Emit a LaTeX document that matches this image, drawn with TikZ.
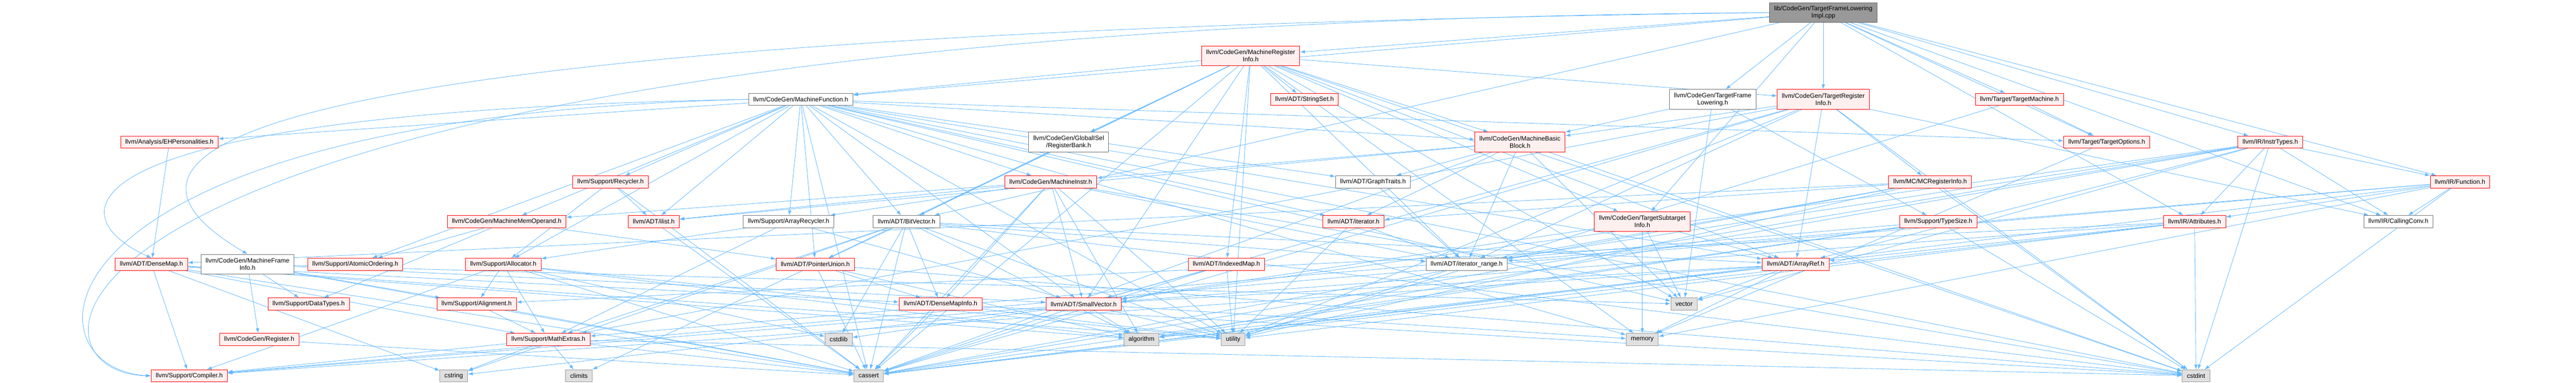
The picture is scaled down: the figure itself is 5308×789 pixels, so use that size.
\documentclass[tikz,border=0pt]{standalone}
\usepackage{fontspec}
\setmainfont{Liberation Sans}
\usepackage{tikz}
\usetikzlibrary{arrows.meta}

\definecolor{edgeblue}{HTML}{63B8FF}
\definecolor{partfill}{HTML}{FFF0F0}
\definecolor{sysfill}{HTML}{E0E0E0}
\definecolor{rootfill}{HTML}{999999}

\pgfdeclarelayer{background}
\pgfsetlayers{background,main}

\tikzset{
  hdr/.style={draw,rectangle,line width=1pt,inner xsep=9.5pt,inner ysep=0pt,
    minimum height=25pt,align=center,font=\fontsize{13}{15}\selectfont},
  part/.style={hdr,draw=red,fill=partfill},
  full/.style={hdr,draw=black!55,fill=white},
  sys/.style={hdr,draw=black!40,fill=sysfill},
  root/.style={hdr,draw=black!60,fill=rootfill},
  twoline/.style={minimum height=41pt},
  dep/.style={draw=edgeblue,line width=0.9pt,-{Latex[length=10pt,width=7pt]}}
}

\begin{document}
\begin{tikzpicture}[x=1pt,y=-1pt]
  \useasboundingbox (0,0) rectangle (5308,789);
  % row 0 and 1
  \node[root,twoline] (F-top) at (3757,26) {lib/CodeGen/TargetFrameLowering\\Impl.cpp};
  \node[part,twoline] (CG-MRI) at (2577,115) {llvm/CodeGen/MachineRegister\\Info.h};
  % row 2
  \node[full] (CG-MF) at (1650,205) {llvm/CodeGen/MachineFunction.h};
  \node[part] (ADT-SSet) at (2688,205) {llvm/ADT/StringSet.h};
  \node[full,twoline] (CG-TFL) at (3529,205) {llvm/CodeGen/TargetFrame\\Lowering.h};
  \node[part,twoline] (CG-TRI) at (3757,205) {llvm/CodeGen/TargetRegister\\Info.h};
  \node[part] (T-TM) at (4161,205) {llvm/Target/TargetMachine.h};
  % row 3
  \node[part] (A-EHP) at (349,293) {llvm/Analysis/EHPersonalities.h};
  \node[full,twoline] (CG-RB) at (2202,293) {llvm/CodeGen/GlobalISel\\/RegisterBank.h};
  \node[part,twoline] (CG-MBB) at (3132,293) {llvm/CodeGen/MachineBasic\\Block.h};
  \node[part] (T-TO) at (4341,293) {llvm/Target/TargetOptions.h};
  \node[part] (IR-IT) at (4678,293) {llvm/IR/InstrTypes.h};
  % row 4
  \node[part] (S-Rec) at (1258,375) {llvm/Support/Recycler.h};
  \node[part] (CG-MI) at (2165,375) {llvm/CodeGen/MachineInstr.h};
  \node[full] (ADT-GT) at (2829,375) {llvm/ADT/GraphTraits.h};
  \node[part] (MC-MCRI) at (3977,375) {llvm/MC/MCRegisterInfo.h};
  \node[part] (IR-Fn) at (5069,375) {llvm/IR/Function.h};
  % row 5
  \node[part] (CG-MMO) at (1044,457) {llvm/CodeGen/MachineMemOperand.h};
  \node[part] (ADT-il) at (1347,457) {llvm/ADT/ilist.h};
  \node[full] (S-AR) at (1625,457) {llvm/Support/ArrayRecycler.h};
  \node[full] (ADT-BV) at (1868,457) {llvm/ADT/BitVector.h};
  \node[part] (ADT-It) at (2789,457) {llvm/ADT/iterator.h};
  \node[part,twoline] (CG-TSI) at (3384,457) {llvm/CodeGen/TargetSubtarget\\Info.h};
  \node[part] (S-TS) at (3994,457) {llvm/Support/TypeSize.h};
  \node[part] (IR-Att) at (4522,457) {llvm/IR/Attributes.h};
  \node[full] (IR-CC) at (4942,457) {llvm/IR/CallingConv.h};
  % row 6
  \node[part] (ADT-DM) at (312,545) {llvm/ADT/DenseMap.h};
  \node[full,twoline] (CG-MFI) at (510,545) {llvm/CodeGen/MachineFrame\\Info.h};
  \node[part] (S-AO) at (732,545) {llvm/Support/AtomicOrdering.h};
  \node[part] (S-Alloc) at (1037,545) {llvm/Support/Allocator.h};
  \node[part] (ADT-PU) at (1680,545) {llvm/ADT/PointerUnion.h};
  \node[part] (ADT-IM) at (2527,545) {llvm/ADT/IndexedMap.h};
  \node[full] (ADT-IR) at (3022,545) {llvm/ADT/iterator\_range.h};
  \node[part] (ADT-AR) at (3700,545) {llvm/ADT/ArrayRef.h};
  % row 7
  \node[part] (S-DT) at (636,627) {llvm/Support/DataTypes.h};
  \node[part] (S-Al) at (982,627) {llvm/Support/Alignment.h};
  \node[part] (ADT-DMI) at (1938,627) {llvm/ADT/DenseMapInfo.h};
  \node[part] (ADT-SV) at (2233,627) {llvm/ADT/SmallVector.h};
  \node[sys] (X-vector) at (3470,627) {vector};
  % row 8
  \node[part] (CG-Reg) at (534,700) {llvm/CodeGen/Register.h};
  \node[part] (S-ME) at (1130,700) {llvm/Support/MathExtras.h};
  \node[sys] (X-cstdlib) at (1728,700) {cstdlib};
  \node[sys] (X-algorithm) at (2352,700) {algorithm};
  \node[sys] (X-utility) at (2541,700) {utility};
  \node[sys] (X-memory) at (3384,700) {memory};
  % row 9
  \node[part] (S-Comp) at (390,775) {llvm/Support/Compiler.h};
  \node[sys] (X-cstring) at (935,775) {cstring};
  \node[sys] (X-climits) at (1193,775) {climits};
  \node[sys] (X-cassert) at (1790,775) {cassert};
  \node[sys] (X-cstdint) at (4525,775) {cstdint};

  \begin{pgfonlayer}{background}
  % includes of the source file
  \draw[dep] (F-top) -- (CG-MRI);
  \draw[dep] (F-top) -- (CG-MF);
  \draw[dep] (F-top) -- (CG-TFL);
  \draw[dep] (F-top) -- (CG-TRI);
  \draw[dep] (F-top) -- (T-TM);
  \draw[dep] (F-top.west) .. controls (300,70) and (180,330) .. (CG-MFI.north);
  \draw[dep] (F-top) -- (ADT-BV);
  \draw[dep] (F-top) -- (CG-TSI);
  \draw[dep] (F-top) -- (IR-Att);
  \draw[dep] (F-top) -- (IR-CC);
  \draw[dep] (F-top) -- (IR-Fn);
  \draw[dep] (F-top) -- (IR-IT);
  \draw[dep] (F-top) -- (T-TO);
  \draw[dep] (F-top.west) .. controls (0,50) and (0,770) .. (S-Comp.west);
  % MachineRegisterInfo.h
  \draw[dep] (CG-MRI) -- (ADT-AR);
  \draw[dep] (CG-MRI) -- (ADT-BV);
  \draw[dep] (CG-MRI) -- (ADT-IM);
  \draw[dep] (CG-MRI) -- (ADT-PU);
  \draw[dep] (CG-MRI) -- (ADT-SV);
  \draw[dep] (CG-MRI) -- (ADT-SSet);
  \draw[dep] (CG-MRI) -- (ADT-IR);
  \draw[dep] (CG-MRI) -- (CG-MBB);
  \draw[dep] (CG-MRI) -- (CG-MF);
  \draw[dep] (CG-MRI) -- (CG-RB);
  \draw[dep] (CG-MRI) -- (CG-TRI);
  \draw[dep] (CG-MRI) -- (CG-TSI);
  \draw[dep] (CG-MRI) -- (X-cassert);
  \draw[dep] (CG-MRI) -- (X-cstdint);
  \draw[dep] (CG-MRI) -- (X-memory);
  \draw[dep] (CG-MRI) -- (X-utility);
  \draw[dep] (CG-MRI) -- (X-vector);
  % MachineFunction.h
  \draw[dep] (CG-MF) -- (ADT-AR);
  \draw[dep] (CG-MF) -- (ADT-BV);
  \draw[dep] (CG-MF.west) .. controls (120,230) and (110,440) .. (ADT-DM.north);
  \draw[dep] (CG-MF) -- (ADT-GT);
  \draw[dep] (CG-MF) -- (ADT-SV);
  \draw[dep] (CG-MF) -- (ADT-il);
  \draw[dep] (CG-MF) -- (ADT-It);
  \draw[dep] (CG-MF) -- (A-EHP);
  \draw[dep] (CG-MF) -- (CG-MBB);
  \draw[dep] (CG-MF) -- (CG-MI);
  \draw[dep] (CG-MF) -- (CG-MMO);
  \draw[dep] (CG-MF) -- (S-Alloc);
  \draw[dep] (CG-MF) -- (S-AR);
  \draw[dep] (CG-MF) -- (S-AO);
  \draw[dep] (CG-MF.west) .. controls (40,240) and (40,760) .. (S-Comp.west);
  \draw[dep] (CG-MF) -- (S-Rec);
  \draw[dep] (CG-MF) -- (T-TO);
  \draw[dep] (CG-MF) -- (ADT-PU);
  \draw[dep] (CG-MF) -- (X-cassert);
  \draw[dep] (CG-MF) -- (X-cstdint);
  \draw[dep] (CG-MF) -- (X-memory);
  \draw[dep] (CG-MF) -- (X-utility);
  \draw[dep] (CG-MF) -- (X-vector);
  % TargetFrameLowering.h
  \draw[dep] (CG-TFL) -- (CG-MBB);
  \draw[dep] (CG-TFL) -- (S-TS);
  \draw[dep] (CG-TFL) -- (X-vector);
  % TargetRegisterInfo.h
  \draw[dep] (CG-TRI) -- (ADT-AR);
  \draw[dep] (CG-TRI) -- (ADT-SV);
  \draw[dep] (CG-TRI) -- (ADT-IR);
  \draw[dep] (CG-TRI) -- (CG-MBB);
  \draw[dep] (CG-TRI) -- (MC-MCRI);
  \draw[dep] (CG-TRI) -- (IR-CC);
  \draw[dep] (CG-TRI) -- (S-ME);
  \draw[dep] (CG-TRI) -- (X-cassert);
  \draw[dep] (CG-TRI) -- (X-cstdint);
  \draw[dep] (CG-TRI) -- (X-utility);
  % TargetMachine.h
  \draw[dep] (T-TM) -- (T-TO);
  \draw[dep] (T-TM) -- (X-utility);
  % RegisterBank.h
  \draw[dep] (CG-RB) -- (ADT-BV);
  % MachineBasicBlock.h
  \draw[dep] (CG-MBB) -- (ADT-GT);
  \draw[dep] (CG-MBB) -- (ADT-il);
  \draw[dep] (CG-MBB) -- (ADT-IR);
  \draw[dep] (CG-MBB) -- (CG-MI);
  \draw[dep] (CG-MBB) -- (ADT-It);
  \draw[dep] (CG-MBB) -- (X-cassert);
  \draw[dep] (CG-MBB) -- (X-cstdint);
  \draw[dep] (CG-MBB) -- (X-vector);
  % TargetOptions.h
  \draw[dep] (T-TO) -- (X-memory);
  % InstrTypes.h
  \draw[dep] (IR-IT) -- (IR-Att);
  \draw[dep] (IR-IT) -- (IR-CC);
  \draw[dep] (IR-IT) -- (IR-Fn);
  \draw[dep] (IR-IT) -- (ADT-AR);
  \draw[dep] (IR-IT) -- (ADT-IR);
  \draw[dep] (IR-IT) -- (ADT-SV);
  \draw[dep] (IR-IT) -- (X-algorithm);
  \draw[dep] (IR-IT) -- (X-cassert);
  \draw[dep] (IR-IT) -- (X-cstdint);
  \draw[dep] (IR-IT) -- (X-vector);
  % EHPersonalities.h
  \draw[dep] (A-EHP) -- (ADT-DM);
  % Recycler.h
  \draw[dep] (S-Rec) -- (ADT-il);
  \draw[dep] (S-Rec) -- (S-Alloc);
  \draw[dep] (S-Rec) -- (X-cassert);
  % MachineInstr.h
  \draw[dep] (CG-MI) -- (ADT-DMI);
  \draw[dep] (CG-MI) -- (ADT-SV);
  \draw[dep] (CG-MI) -- (ADT-il);
  \draw[dep] (CG-MI) -- (ADT-IR);
  \draw[dep] (CG-MI) -- (CG-MMO);
  \draw[dep] (CG-MI) -- (S-AR);
  \draw[dep] (CG-MI) -- (X-algorithm);
  \draw[dep] (CG-MI) -- (X-cassert);
  \draw[dep] (CG-MI) -- (X-cstdint);
  \draw[dep] (CG-MI) -- (X-utility);
  % GraphTraits.h
  \draw[dep] (ADT-GT) -- (ADT-IR);
  % MCRegisterInfo.h
  \draw[dep] (MC-MCRI) -- (ADT-DM);
  \draw[dep] (MC-MCRI) -- (ADT-It);
  \draw[dep] (MC-MCRI) -- (ADT-IR);
  \draw[dep] (MC-MCRI) -- (X-cassert);
  \draw[dep] (MC-MCRI) -- (X-cstdint);
  \draw[dep] (MC-MCRI) -- (X-utility);
  % Function.h
  \draw[dep] (IR-Fn) -- (IR-Att);
  \draw[dep] (IR-Fn) -- (IR-CC);
  \draw[dep] (IR-Fn) -- (ADT-IR);
  \draw[dep] (IR-Fn) -- (S-Comp);
  \draw[dep] (IR-Fn) -- (X-cassert);
  \draw[dep] (IR-Fn) -- (X-cstdint);
  \draw[dep] (IR-Fn) -- (X-memory);
  % MachineMemOperand.h
  \draw[dep] (CG-MMO) -- (ADT-PU);
  \draw[dep] (CG-MMO) -- (S-AO);
  \draw[dep] (CG-MMO) -- (S-DT);
  % ilist.h
  \draw[dep] (ADT-il) -- (X-cassert);
  % ArrayRecycler.h
  \draw[dep] (S-AR) -- (ADT-SV);
  \draw[dep] (S-AR) -- (S-Alloc);
  \draw[dep] (S-AR) -- (S-ME);
  % BitVector.h
  \draw[dep] (ADT-BV) -- (ADT-AR);
  \draw[dep] (ADT-BV) -- (ADT-DMI);
  \draw[dep] (ADT-BV) -- (ADT-IR);
  \draw[dep] (ADT-BV) -- (S-ME);
  \draw[dep] (ADT-BV) -- (X-algorithm);
  \draw[dep] (ADT-BV) -- (X-cassert);
  \draw[dep] (ADT-BV) -- (X-climits);
  \draw[dep] (ADT-BV) -- (X-cstdint);
  \draw[dep] (ADT-BV) -- (X-cstdlib);
  \draw[dep] (ADT-BV) -- (X-cstring);
  \draw[dep] (ADT-BV) -- (X-utility);
  % iterator.h
  \draw[dep] (ADT-It) -- (ADT-IR);
  \draw[dep] (ADT-It) -- (X-utility);
  % TargetSubtargetInfo.h
  \draw[dep] (CG-TSI) -- (ADT-AR);
  \draw[dep] (CG-TSI) -- (ADT-SV);
  \draw[dep] (CG-TSI) -- (X-memory);
  \draw[dep] (CG-TSI) -- (X-vector);
  % TypeSize.h
  \draw[dep] (S-TS) -- (S-ME);
  \draw[dep] (S-TS) -- (X-algorithm);
  \draw[dep] (S-TS) -- (X-cassert);
  \draw[dep] (S-TS) -- (X-cstdint);
  % Attributes.h
  \draw[dep] (IR-Att) -- (ADT-AR);
  \draw[dep] (IR-Att) -- (ADT-SV);
  \draw[dep] (IR-Att) -- (S-Al);
  \draw[dep] (IR-Att) -- (X-cassert);
  \draw[dep] (IR-Att) -- (X-cstdint);
  \draw[dep] (IR-Att) -- (X-utility);
  % DenseMap.h
  \draw[dep] (ADT-DM) -- (ADT-DMI);
  \draw[dep] (ADT-DM) -- (S-Comp);
  \draw[dep] (ADT-DM) -- (S-ME);
  \draw[dep] (ADT-DM) -- (X-algorithm);
  \draw[dep] (ADT-DM) -- (X-cassert);
  \draw[dep] (ADT-DM) -- (X-cstring);
  \draw[dep] (ADT-DM) -- (X-utility);
  % MachineFrameInfo.h
  \draw[dep] (CG-MFI) -- (ADT-SV);
  \draw[dep] (CG-MFI) -- (CG-Reg);
  \draw[dep] (CG-MFI) -- (S-Al);
  \draw[dep] (CG-MFI) -- (S-DT);
  \draw[dep] (CG-MFI) -- (X-cassert);
  \draw[dep] (CG-MFI) -- (X-vector);
  % Allocator.h
  \draw[dep] (S-Alloc) -- (S-Comp);
  \draw[dep] (S-Alloc) -- (S-Al);
  \draw[dep] (S-Alloc) -- (S-ME);
  \draw[dep] (S-Alloc) -- (X-algorithm);
  \draw[dep] (S-Alloc) -- (X-cassert);
  \draw[dep] (S-Alloc) -- (X-cstdlib);
  \draw[dep] (S-Alloc) -- (X-utility);
  % PointerUnion.h
  \draw[dep] (ADT-PU) -- (ADT-DMI);
  \draw[dep] (ADT-PU) -- (X-algorithm);
  \draw[dep] (ADT-PU) -- (X-cassert);
  \draw[dep] (ADT-PU) -- (X-cstdint);
  % IndexedMap.h
  \draw[dep] (ADT-IM) -- (ADT-SV);
  \draw[dep] (ADT-IM) -- (X-cassert);
  \draw[dep] (ADT-IM) -- (X-utility);
  % iterator_range.h
  \draw[dep] (ADT-IR) -- (X-utility);
  % ArrayRef.h
  \draw[dep] (ADT-AR) -- (ADT-SV);
  \draw[dep] (ADT-AR) -- (S-Comp);
  \draw[dep] (ADT-AR) -- (X-algorithm);
  \draw[dep] (ADT-AR) -- (X-cassert);
  \draw[dep] (ADT-AR) -- (X-memory);
  \draw[dep] (ADT-AR) -- (X-vector);
  % Alignment.h
  \draw[dep] (S-Al) -- (S-ME);
  \draw[dep] (S-Al) -- (X-cassert);
  % DenseMapInfo.h
  \draw[dep] (ADT-DMI) -- (X-cassert);
  \draw[dep] (ADT-DMI) -- (X-cstdint);
  \draw[dep] (ADT-DMI) -- (X-utility);
  % SmallVector.h
  \draw[dep] (ADT-SV) -- (S-Comp);
  \draw[dep] (ADT-SV) -- (X-algorithm);
  \draw[dep] (ADT-SV) -- (X-cassert);
  \draw[dep] (ADT-SV) -- (X-cstdlib);
  \draw[dep] (ADT-SV) -- (X-cstring);
  \draw[dep] (ADT-SV) -- (X-memory);
  \draw[dep] (ADT-SV) -- (X-utility);
  % Register.h
  \draw[dep] (CG-Reg) -- (X-cassert);
  % MathExtras.h
  \draw[dep] (S-ME) -- (S-Comp);
  \draw[dep] (S-ME) -- (X-cassert);
  \draw[dep] (S-ME) -- (X-climits);
  \draw[dep] (S-ME) -- (X-cstdint);
  \draw[dep] (S-ME) -- (X-cstring);
  \end{pgfonlayer}
\end{tikzpicture}
\end{document}
